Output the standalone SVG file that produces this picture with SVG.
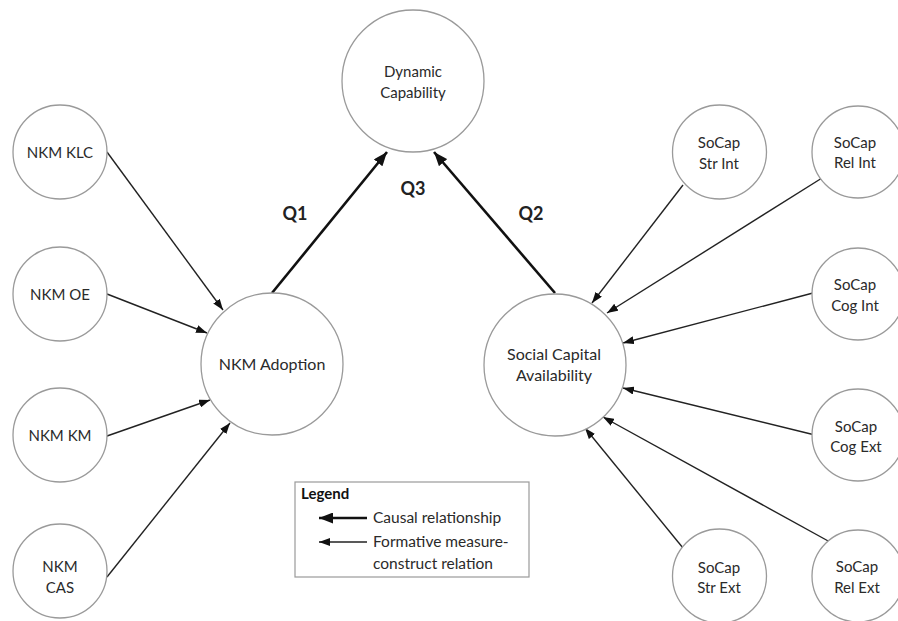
<svg xmlns="http://www.w3.org/2000/svg" width="898" height="621" viewBox="0 0 898 621">
<style>
.node circle{fill:#fff;stroke:#9a9a9a;stroke-width:1.3}
text{font-family:Lato,"Liberation Sans",sans-serif;fill:#2a2a2a;text-anchor:middle}
.s{font-size:15px}
.b{font-size:16px}
.q{font-size:18px;font-weight:bold;fill:#222}
.thin{stroke:#222;stroke-width:1.4;fill:none;marker-end:url(#ah)}
.thick{stroke:#111;stroke-width:2.6;fill:none;marker-end:url(#ahb)}
.lg{font-size:15.5px;text-anchor:start}
</style>
<defs>
<marker id="ah" markerUnits="userSpaceOnUse" markerWidth="11" markerHeight="8" refX="11" refY="4" orient="auto">
<path d="M0,0 L11,4 L0,8 z" fill="#111"/>
</marker>
<marker id="ahb" markerUnits="userSpaceOnUse" markerWidth="14" markerHeight="11" refX="14" refY="5.5" orient="auto">
<path d="M0,0 L14,5.5 L0,11 z" fill="#111"/>
</marker>
</defs>
<rect width="898" height="621" fill="#fff"/>
<g id="connectors">
<line class="thick" x1="272" y1="293" x2="387" y2="152"/>
<line class="thick" x1="555" y1="293" x2="434" y2="152"/>
<line class="thin" x1="107" y1="152" x2="223" y2="310"/>
<line class="thin" x1="107" y1="294" x2="207" y2="333"/>
<line class="thin" x1="107" y1="436" x2="210" y2="400"/>
<line class="thin" x1="107" y1="577" x2="230" y2="423"/>
<line class="thin" x1="683" y1="185" x2="592" y2="303"/>
<line class="thin" x1="822" y1="178" x2="607" y2="313"/>
<line class="thin" x1="813" y1="293" x2="623" y2="343"/>
<line class="thin" x1="815" y1="435" x2="623" y2="388"/>
<line class="thin" x1="830" y1="542" x2="603" y2="417"/>
<line class="thin" x1="683" y1="548" x2="585" y2="428"/>
</g>
<g id="dynamic-capability" class="node"><circle cx="413" cy="81" r="71"/><text class="s" x="413" y="77">Dynamic</text><text class="s" x="413" y="98">Capability</text></g>
<g id="nkm-adoption" class="node"><circle cx="272" cy="364" r="71"/><text class="b" x="272" y="370">NKM Adoption</text></g>
<g id="social-capital" class="node"><circle cx="555" cy="365" r="71"/><text class="b" x="554" y="360">Social Capital</text><text class="b" x="554" y="381">Availability</text></g>
<g id="nkm-klc" class="node"><circle cx="60" cy="152" r="47"/><text class="s" x="60" y="158">NKM KLC</text></g>
<g id="nkm-oe" class="node"><circle cx="60" cy="294" r="47"/><text class="s" x="60" y="300">NKM OE</text></g>
<g id="nkm-km" class="node"><circle cx="60" cy="435" r="47"/><text class="s" x="60" y="441">NKM KM</text></g>
<g id="nkm-cas" class="node"><circle cx="60" cy="571" r="47"/><text class="s" x="60" y="572">NKM</text><text class="s" x="60" y="593">CAS</text></g>
<g id="socap-str-int" class="node"><circle cx="719.5" cy="152" r="47"/><text class="s" x="719" y="148">SoCap</text><text class="s" x="719" y="169">Str Int</text></g>
<g id="socap-rel-int" class="node"><circle cx="858" cy="152" r="46"/><text class="s" x="855" y="148">SoCap</text><text class="s" x="855" y="168">Rel Int</text></g>
<g id="socap-cog-int" class="node"><circle cx="858" cy="294" r="46"/><text class="s" x="855" y="290">SoCap</text><text class="s" x="855" y="311">Cog Int</text></g>
<g id="socap-cog-ext" class="node"><circle cx="858" cy="435" r="46"/><text class="s" x="856" y="432">SoCap</text><text class="s" x="856" y="452">Cog Ext</text></g>
<g id="socap-str-ext" class="node"><circle cx="719.5" cy="576" r="47"/><text class="s" x="719" y="573">SoCap</text><text class="s" x="719" y="593">Str Ext</text></g>
<g id="socap-rel-ext" class="node"><circle cx="858" cy="576" r="46"/><text class="s" x="857" y="572">SoCap</text><text class="s" x="857" y="593">Rel Ext</text></g>
<g id="labels">
<text class="q" x="295" y="220">Q1</text>
<text class="q" x="413" y="195">Q3</text>
<text class="q" x="531" y="220">Q2</text>
</g>
<g id="legend">
<rect x="295" y="482" width="234" height="95" fill="#fff" stroke="#9a9a9a" stroke-width="1.2"/>
<text x="301" y="499" style="font-size:15px;font-weight:bold;text-anchor:start;fill:#111">Legend</text>
<line class="thick" x1="367" y1="518" x2="319" y2="518"/>
<line class="thin" x1="367" y1="542" x2="319" y2="542"/>
<text class="lg" x="373" y="523">Causal relationship</text>
<text class="lg" x="373" y="547">Formative measure-</text>
<text class="lg" x="373" y="569">construct relation</text>
</g>
</svg>
